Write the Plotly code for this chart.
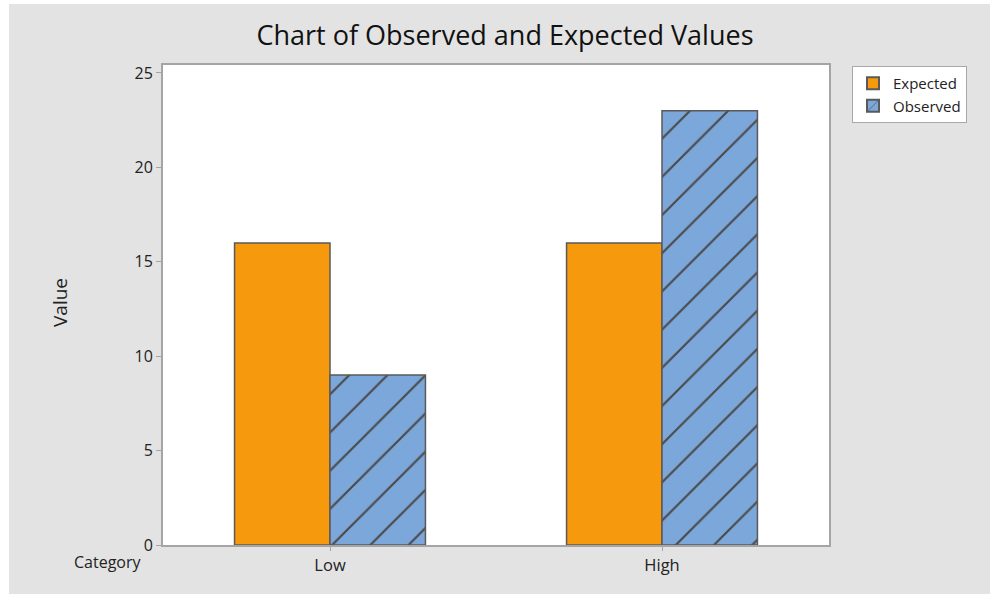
import plotly.graph_objects as go

categories = ["Low", "High"]
expected = [16, 16]
observed = [9, 23]
series_names = ["Expected", "Observed"]

# figure placed on the page at (OX, OY), as in the reference screenshot
OX, OY = 9, 4
W, H = 990 - OX, 594 - OY
L, R, T, B = 163 - OX, 990 - 829, 65 - OY, 594 - 545
pw, ph = W - L - R, H - T - B

def px_x(x):  # page pixel -> paper
    return (x - OX - L) / pw

def px_y(y):
    return (H - B - (y - OY)) / ph

fig = go.Figure()
fig.add_trace(go.Bar(
    x=categories, y=expected, name=series_names[0],
    marker=dict(color="#F7990C", line=dict(color="#595959", width=1.5)),
))
fig.add_trace(go.Bar(
    x=categories, y=observed, name=series_names[1],
    marker=dict(color="#7BA7DA", line=dict(color="#595959", width=1.5),
                pattern=dict(shape="/", bgcolor="#7BA7DA", fgcolor="#4a4a4a",
                             size=27, solidity=0.08, fillmode="replace")),
))

font = "Open Sans"
fig.update_layout(
    width=W, height=H,
    margin=dict(l=L, r=R, t=T, b=B, autoexpand=False),
    paper_bgcolor="#e3e3e3", plot_bgcolor="white",
    barmode="group", bargap=0.425, bargroupgap=0,
    font=dict(family=font, size=16, color="#222222"),
    title=dict(text="Chart of Observed and Expected Values", x=(505 - OX) / W, xanchor="center",
               y=1 - (36 - OY) / H, yanchor="middle", font=dict(size=27, color="#111111", family=font)),
    legend=dict(x=px_x(852), y=px_y(66), xanchor="left", yanchor="top",
                bgcolor="white", bordercolor="#a8a8a8", borderwidth=1,
                font=dict(size=15, color="#222222"), tracegroupgap=0,
                itemsizing="constant"),
    showlegend=True,
)
fig.update_xaxes(
    type="category", range=[-0.503, 1.503],
    showline=True, linecolor="#a5a5a5", linewidth=2, mirror=True,
    ticks="outside", ticklen=4, tickcolor="#a5a5a5", tickwidth=1,
    showgrid=False, tickfont=dict(size=16.5, color="#222222"),
)
fig.update_yaxes(
    range=[0, 25.42], tickvals=[0, 5, 10, 15, 20, 25],
    showline=True, linecolor="#a5a5a5", linewidth=2, mirror=True,
    ticks="outside", ticklen=5, tickcolor="#a5a5a5", tickwidth=1,
    showgrid=False, zeroline=False, tickfont=dict(size=16, color="#222222"),
)
fig.add_annotation(text="Value", textangle=-90, xref="paper", yref="paper",
                   x=px_x(60), y=px_y(302), xanchor="center", yanchor="middle",
                   showarrow=False, font=dict(size=19, color="#222222"))
fig.add_annotation(text="Category", xref="paper", yref="paper",
                   x=px_x(108), y=px_y(562), xanchor="center", yanchor="middle",
                   showarrow=False, font=dict(size=16, color="#222222"))

post = ("document.body.style.margin='%dpx 0 0 %dpx';"
        "document.body.style.background='white';"
        "document.body.style.overflow='hidden';" % (OY, OX))
fig.write_html("out.html", post_script=post)
